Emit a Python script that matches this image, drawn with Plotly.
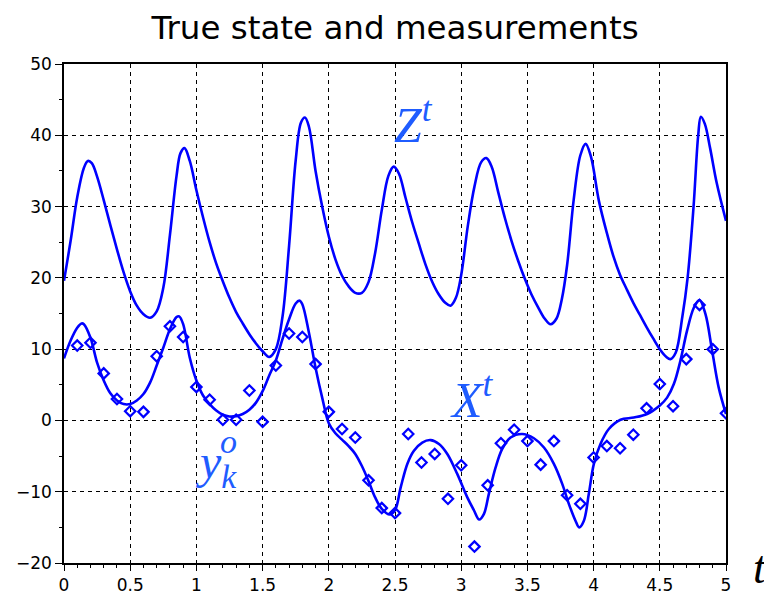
import plotly.graph_objects as go

# true state X
t_x = [0, 0.05, 0.1, 0.133, 0.15, 0.2, 0.25, 0.3, 0.35, 0.4, 0.45, 0.5, 0.55, 0.6, 0.65,
       0.7, 0.75, 0.8, 0.85, 0.87, 0.9, 0.95, 1.0, 1.05, 1.1, 1.15, 1.2, 1.25, 1.3, 1.35,
       1.4, 1.45, 1.5, 1.55, 1.6, 1.65, 1.7, 1.75, 1.78, 1.8, 1.85, 1.9, 1.95, 2.0, 2.05,
       2.1, 2.15, 2.2, 2.25, 2.3, 2.35, 2.4, 2.46, 2.5, 2.543, 2.593, 2.643, 2.706, 2.769,
       2.832, 2.895, 2.97, 3.046, 3.096, 3.136, 3.172, 3.209, 3.26, 3.31, 3.373, 3.461,
       3.549, 3.625, 3.70, 3.763, 3.813, 3.864, 3.891, 3.926, 3.964, 4.002, 4.052, 4.115,
       4.203, 4.304, 4.404, 4.50, 4.555, 4.606, 4.656, 4.706, 4.757, 4.80, 4.845, 4.895,
       4.945, 5.0]
x_true = [8.7, 11.2, 13.0, 13.6, 13.5, 11.6, 8.1, 5.6, 3.8, 2.8, 2.3, 2.3, 2.8, 3.7, 5.3,
          7.7, 10.2, 12.8, 14.5, 14.6, 13.5, 8.8, 5.6, 3.5, 2.3, 1.4, 0.8, 0.55, 0.6, 0.9,
          1.5, 2.5, 4.1, 6.3, 8.4, 11.4, 14.2, 16.4, 16.8, 16.3, 12.3, 7.4, 3.2, -0.4, -1.8,
          -2.7, -3.6, -4.7, -6.4, -8.5, -10.8, -12.4, -13.2, -12.6, -9.4, -6.1, -4.25, -3.1, -2.76,
          -3.3, -4.7, -7.5, -10.8, -12.6, -13.9, -13.1, -10.3, -6.6, -4.0, -2.4, -1.9,
          -2.5, -3.8, -6.1, -8.9, -11.7, -14.1, -15.0, -14.1, -10.3, -6.1, -3.3, -1.2,
          0.1, 0.4, 0.9, 2.1, 3.2, 5.1, 8.4, 12.6, 15.8, 16.9, 14.9, 9.8,
          4.6, 0.9]

# true state Z
t_z = [0, 0.05, 0.1, 0.15, 0.18, 0.21, 0.25, 0.3, 0.35, 0.4, 0.45, 0.5, 0.55, 0.6, 0.65,
       0.7, 0.75, 0.8, 0.85, 0.88, 0.91, 0.95, 1.0, 1.05, 1.1, 1.15, 1.2, 1.25, 1.3, 1.35,
       1.4, 1.45, 1.5, 1.55, 1.6, 1.65, 1.7, 1.75, 1.79, 1.82, 1.85, 1.9, 1.95, 2.0, 2.05,
       2.1, 2.15, 2.2, 2.25, 2.3, 2.35, 2.4, 2.45, 2.49, 2.53, 2.58, 2.63, 2.68, 2.73, 2.78,
       2.83, 2.88, 2.92, 2.96, 3.0, 3.05, 3.1, 3.15, 3.19, 3.23, 3.28, 3.33, 3.38, 3.43, 3.48,
       3.53, 3.58, 3.63, 3.675, 3.72, 3.76, 3.8, 3.85, 3.9, 3.94, 3.98, 4.04, 4.1, 4.15, 4.2,
       4.25, 4.3, 4.35, 4.4, 4.45, 4.5, 4.55, 4.58, 4.62, 4.67, 4.71, 4.755, 4.79, 4.81,
       4.84, 4.88, 4.93, 5.0]
z_true = [19.6, 25.2, 31.3, 35.4, 36.4, 36.1, 34.2, 30.9, 27.4, 24.0, 20.8, 18.1, 16.1, 14.9, 14.4,
          15.3, 18.6, 26.0, 34.3, 37.5, 38.2, 36.4, 32.3, 28.5, 25.0, 22.0, 19.5, 17.2, 15.2, 13.6,
          12.1, 10.8, 9.7, 8.9, 10.0, 14.5, 24.5, 36.5, 41.8, 42.5, 41.2, 35.0, 30.0, 25.8, 22.6,
          20.3, 18.8, 17.9, 17.9, 19.4, 23.5, 29.5, 34.3, 35.6, 34.6, 31.2, 27.8, 24.8, 21.9, 19.5,
          17.7, 16.5, 16.1, 17.2, 20.4, 27.3, 32.8, 36.2, 36.8, 35.6, 32.0, 28.4, 25.2, 22.4, 19.9,
          17.7, 15.9, 14.3, 13.5, 14.3, 17.0, 21.8, 31.0, 37.2, 38.8, 37.0, 30.8, 26.3, 23.0, 20.4,
          18.4, 16.5, 14.8, 13.1, 11.5, 10.0, 8.9, 8.6, 9.5, 14.5, 20.0, 30.0, 40.0, 42.6,
          41.6, 38.2, 33.3, 28.0]

# measurements y_k^o
t_obs = [0.1, 0.2, 0.3, 0.4, 0.5, 0.6, 0.7, 0.8, 0.9, 1.0, 1.1, 1.2, 1.3, 1.4, 1.5, 1.6, 1.7,
         1.8, 1.9, 2.0, 2.1, 2.2, 2.3, 2.4, 2.5, 2.6, 2.7, 2.8, 2.9, 3.0, 3.1, 3.2, 3.3, 3.4,
         3.5, 3.6, 3.7, 3.8, 3.9, 4.0, 4.1, 4.2, 4.3, 4.4, 4.5, 4.6, 4.7, 4.8, 4.9, 5.0]
y_obs = [10.5, 10.9, 6.6, 3.0, 1.3, 1.2, 9.0, 13.2, 11.7, 4.7, 2.9, 0.1, 0.1, 4.2, -0.2, 7.7, 12.2,
         11.7, 7.9, 1.2, -1.2, -2.4, -8.4, -12.3, -13.0, -1.9, -5.9, -4.7, -11.0, -6.3, -17.7, -9.1, -3.2, -1.3,
         -2.9, -6.2, -2.9, -10.5, -11.7, -5.2, -3.6, -3.9, -2.0, 1.7, 5.1, 2.0, 8.6, 16.2, 10.0, 1.0]

blue = "#0000ff"
label_blue = "#1f5cff"

fig = go.Figure()
fig.add_trace(go.Scatter(x=t_z, y=z_true, mode="lines",
                         line=dict(color=blue, width=2.6, shape="spline", smoothing=1)))
fig.add_trace(go.Scatter(x=t_x, y=x_true, mode="lines",
                         line=dict(color=blue, width=2.6, shape="spline", smoothing=1)))
fig.add_trace(go.Scatter(x=t_obs, y=y_obs, mode="markers",
                         marker=dict(symbol="diamond-open", size=8, color=blue,
                                     line=dict(color=blue, width=2.2))))

serif = "Liberation Serif"
fig.add_annotation(x=2.64, y=41.9, text="<i>Z</i><sup><i>t</i></sup>", showarrow=False,
                   font=dict(family=serif, size=50, color=label_blue))
fig.add_annotation(x=3.08, y=3.3, text="<i>X</i><sup><i>t</i></sup>", showarrow=False,
                   font=dict(family=serif, size=50, color=label_blue))
fig.add_annotation(x=1.15, y=-6.2, text="<i>y</i><sub><i>k</i></sub>",
                   showarrow=False, font=dict(family=serif, size=48, color=label_blue))
fig.add_annotation(x=1.245, y=-3.0, text="<i>o</i>",
                   showarrow=False, font=dict(family=serif, size=34, color=label_blue))
# axis label "t" sits to the right of the x axis
fig.add_annotation(x=1.0, xref="paper", xanchor="left", xshift=25, y=-20, yanchor="middle",
                   yshift=-4, text="<i>t</i>", showarrow=False,
                   font=dict(family=serif, size=46, color="black"))

fig.update_layout(
    width=765, height=592,
    paper_bgcolor="white", plot_bgcolor="white",
    showlegend=False,
    margin=dict(l=56, r=47, t=56, b=37),
    font=dict(family="DejaVu Sans", size=17, color="black"),
    title=dict(text="True state and measurements", x=0.5, xanchor="center", xref="paper",
               y=0.967, yanchor="middle", font=dict(family="DejaVu Sans", size=32.5)),
)
fig.update_xaxes(range=[0, 5], dtick=0.5, tick0=0, showline=True, mirror=True,
                 automargin=False,
                 linecolor="black", linewidth=1.5, ticks="outside", ticklen=6,
                 tickcolor="black", showgrid=True, gridcolor="black", gridwidth=1,
                 griddash="4px,4px", zeroline=False,
                 minor=dict(dtick=0.1, ticks="outside", ticklen=3, tickcolor="black",
                            showgrid=False))
fig.update_yaxes(range=[-20, 50], dtick=10, tick0=0, showline=True, mirror=True,
                 automargin=False,
                 linecolor="black", linewidth=1.5, ticks="outside", ticklen=7,
                 tickcolor="black", showgrid=True, gridcolor="black", gridwidth=1,
                 griddash="4px,4px", zeroline=False,
                 minor=dict(dtick=5, ticks="outside", ticklen=3, tickcolor="black",
                            showgrid=False))

fig.write_html("out.html")
